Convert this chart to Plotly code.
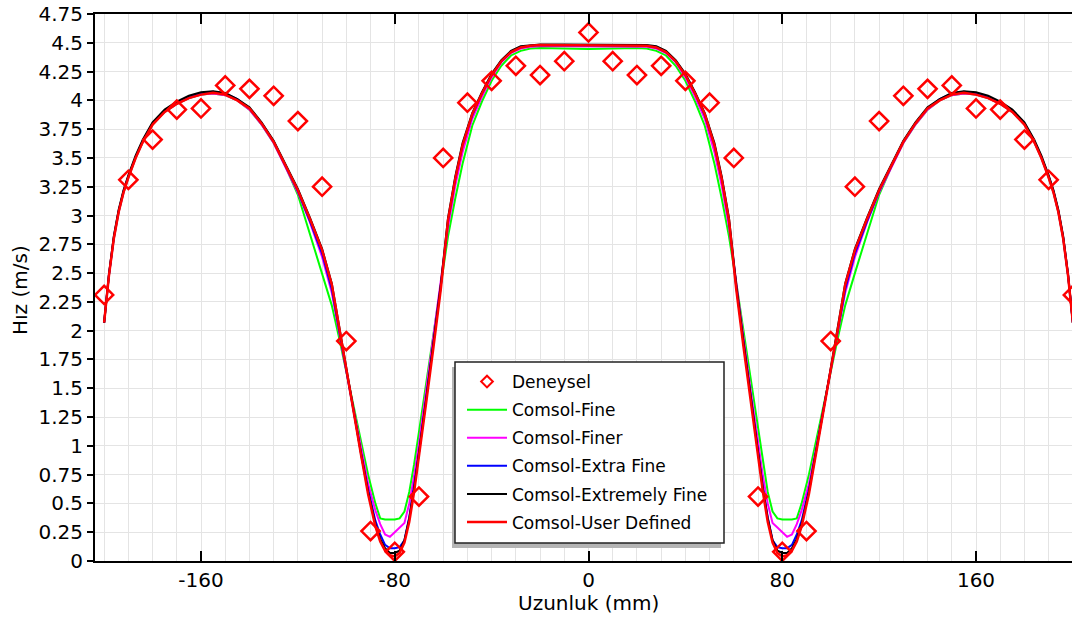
import plotly.graph_objects as go

# Measurement positions along the channel (mm) and measured velocity (m/s)
EXP_X = [-200, -190, -180, -170, -160, -150, -140, -130, -120, -110, -100, -90, -80, -70, -60, -50, -40, -30, -20, -10,
         0, 10, 20, 30, 40, 50, 60, 70, 80, 90, 100, 110, 120, 130, 140, 150, 160, 170, 180, 190, 200]
EXP_V = [2.31, 3.31, 3.66, 3.92, 3.93, 4.13, 4.10, 4.04, 3.82, 3.25, 1.91, 0.26, 0.08, 0.56, 3.50, 3.98, 4.17, 4.30, 4.22, 4.34,
         4.59, 4.34, 4.22, 4.30, 4.17, 3.98, 3.50, 0.56, 0.08, 0.26, 1.91, 3.25, 3.82, 4.04, 4.10, 4.13, 3.93, 3.92, 3.66, 3.31, 2.31]

# Sample line used for all simulated profiles (mm)
SIM_X = [-200, -198, -196, -194, -192, -190, -187, -184, -180, -175, -170, -165, -160, -155, -150, -145, -140, -135,
         -130, -125, -120, -115, -110, -106, -103, -100, -97, -94, -91, -88, -86, -84, -82, -80, -78, -76, -74, -72,
         -70, -67, -64, -61, -58, -55, -52, -48, -44, -40, -36, -32, -28, -24, -20, -10, 0,
         10, 20, 24, 28, 32, 36, 40, 44, 48, 52, 55, 58, 61, 64, 67, 70, 72, 74, 76, 78, 80, 82, 84, 86, 88, 91, 94,
         97, 100, 103, 106, 110, 115, 120, 125, 130, 135, 140, 145, 150, 155, 160, 165, 170, 175, 180, 184, 187, 190,
         192, 194, 196, 198, 200]

V_FINE = [2.07, 2.48, 2.80, 3.03, 3.20, 3.33, 3.50, 3.64, 3.79, 3.90, 3.97, 4.02, 4.05, 4.06, 4.045, 4.00, 3.92, 3.79,
          3.63, 3.42, 3.18, 2.84, 2.50, 2.22, 1.94, 1.64, 1.34, 1.04, 0.75, 0.50, 0.37, 0.36, 0.36, 0.36, 0.37, 0.43,
          0.60, 0.84, 1.12, 1.55, 2.00, 2.42, 2.82, 3.15, 3.45, 3.78, 3.99, 4.17, 4.30, 4.39, 4.43, 4.45, 4.455, 4.45,
          4.445,
          4.45, 4.455, 4.45, 4.43, 4.39, 4.30, 4.17, 3.99, 3.78, 3.45, 3.15, 2.82, 2.42, 2.00, 1.55, 1.12, 0.84, 0.60,
          0.43, 0.37, 0.36, 0.36, 0.36, 0.37, 0.50, 0.75, 1.04, 1.34, 1.64, 1.94, 2.22, 2.50, 2.84, 3.18, 3.42, 3.63,
          3.79, 3.92, 4.00, 4.045, 4.06, 4.05, 4.02, 3.97, 3.90, 3.79, 3.64, 3.50, 3.33, 3.20, 3.03, 2.80, 2.48, 2.07]

V_FINER = [2.07, 2.48, 2.80, 3.03, 3.20, 3.33, 3.50, 3.64, 3.79, 3.90, 3.97, 4.02, 4.05, 4.06, 4.045, 4.00, 3.92, 3.79,
           3.63, 3.42, 3.20, 2.94, 2.64, 2.33, 1.98, 1.65, 1.32, 0.98, 0.67, 0.44, 0.32, 0.23, 0.21, 0.25, 0.29, 0.33,
           0.50, 0.74, 1.02, 1.48, 1.94, 2.40, 2.90, 3.26, 3.55, 3.84, 4.03, 4.20, 4.33, 4.41, 4.45, 4.465, 4.47, 4.47,
           4.47,
           4.47, 4.47, 4.465, 4.45, 4.41, 4.33, 4.20, 4.03, 3.84, 3.55, 3.26, 2.90, 2.40, 1.94, 1.48, 1.02, 0.74, 0.50,
           0.33, 0.29, 0.25, 0.21, 0.23, 0.32, 0.44, 0.67, 0.98, 1.32, 1.65, 1.98, 2.33, 2.64, 2.94, 3.20, 3.42, 3.63,
           3.79, 3.92, 4.00, 4.045, 4.06, 4.05, 4.02, 3.97, 3.90, 3.79, 3.64, 3.50, 3.33, 3.20, 3.03, 2.80, 2.48, 2.07]

V_EXTRA_FINE = [2.07, 2.49, 2.81, 3.04, 3.21, 3.34, 3.51, 3.65, 3.80, 3.91, 3.98, 4.03, 4.065, 4.075, 4.06, 4.01, 3.93,
                3.80, 3.64, 3.43, 3.21, 2.95, 2.67, 2.36, 2.00, 1.66, 1.31, 0.95, 0.62, 0.35, 0.23, 0.14, 0.11, 0.11,
                0.12, 0.18, 0.38, 0.64, 0.94, 1.42, 1.90, 2.38, 2.95, 3.32, 3.61, 3.87, 4.06, 4.22, 4.34, 4.42, 4.46,
                4.475, 4.48, 4.48, 4.48,
                4.48, 4.48, 4.475, 4.46, 4.42, 4.34, 4.22, 4.06, 3.87, 3.61, 3.32, 2.95, 2.38, 1.90, 1.42, 0.94, 0.64,
                0.38, 0.18, 0.12, 0.11, 0.11, 0.14, 0.23, 0.35, 0.62, 0.95, 1.31, 1.66, 2.00, 2.36, 2.67, 2.95, 3.21,
                3.43, 3.64, 3.80, 3.93, 4.01, 4.06, 4.075, 4.065, 4.03, 3.98, 3.91, 3.80, 3.65, 3.51, 3.34, 3.21, 3.04,
                2.81, 2.49, 2.07]

V_EXTREMELY_FINE = [2.07, 2.49, 2.82, 3.05, 3.22, 3.35, 3.52, 3.66, 3.81, 3.92, 3.99, 4.04, 4.07, 4.08, 4.065, 4.01,
                    3.94, 3.81, 3.65, 3.44, 3.23, 2.98, 2.71, 2.41, 2.03, 1.67, 1.31, 0.94, 0.60, 0.32, 0.19, 0.11,
                    0.07, 0.07, 0.09, 0.18, 0.37, 0.63, 0.93, 1.41, 1.90, 2.40, 2.98, 3.34, 3.63, 3.89, 4.07, 4.23,
                    4.35, 4.43, 4.47, 4.48, 4.485, 4.485, 4.485,
                    4.485, 4.485, 4.48, 4.47, 4.43, 4.35, 4.23, 4.07, 3.89, 3.63, 3.34, 2.98, 2.40, 1.90, 1.41, 0.93,
                    0.63, 0.37, 0.18, 0.09, 0.07, 0.07, 0.11, 0.19, 0.32, 0.60, 0.94, 1.31, 1.67, 2.03, 2.41, 2.71,
                    2.98, 3.23, 3.44, 3.65, 3.81, 3.94, 4.01, 4.065, 4.08, 4.07, 4.04, 3.99, 3.92, 3.81, 3.66, 3.52,
                    3.35, 3.22, 3.05, 2.82, 2.49, 2.07]

V_USER = [2.07, 2.48, 2.80, 3.03, 3.20, 3.33, 3.50, 3.64, 3.79, 3.90, 3.97, 4.02, 4.05, 4.065, 4.05, 4.00, 3.93, 3.80,
          3.64, 3.43, 3.22, 2.97, 2.70, 2.40, 2.02, 1.66, 1.30, 0.93, 0.58, 0.30, 0.17, 0.09, 0.05, 0.04, 0.07, 0.16,
          0.34, 0.60, 0.90, 1.38, 1.86, 2.36, 2.96, 3.32, 3.61, 3.88, 4.06, 4.22, 4.34, 4.42, 4.46, 4.475, 4.48, 4.48,
          4.48,
          4.48, 4.48, 4.475, 4.46, 4.42, 4.34, 4.22, 4.06, 3.88, 3.61, 3.32, 2.96, 2.36, 1.86, 1.38, 0.90, 0.60, 0.34,
          0.16, 0.07, 0.04, 0.05, 0.09, 0.17, 0.30, 0.58, 0.93, 1.30, 1.66, 2.02, 2.40, 2.70, 2.97, 3.22, 3.43, 3.64,
          3.80, 3.93, 4.00, 4.05, 4.065, 4.05, 4.02, 3.97, 3.90, 3.79, 3.64, 3.50, 3.33, 3.20, 3.03, 2.80, 2.48, 2.07]

SERIES_NAMES = ["Comsol-Fine", "Comsol-Finer", "Comsol-Extra Fine", "Comsol-Extremely Fine", "Comsol-User Defined"]
SERIES_COLORS = ["#00ff00", "#ff00ff", "#0000ff", "#000000", "#ff0000"]

X_TICKS = [-160, -80, 0, 80, 160]
X_TICK_TEXT = ["-160", "-80", "0", "80", "160"]
Y_TICKS = [0, 0.25, 0.5, 0.75, 1, 1.25, 1.5, 1.75, 2, 2.25, 2.5, 2.75, 3, 3.25, 3.5, 3.75, 4, 4.25, 4.5, 4.75]
Y_TICK_TEXT = ["0", "0.25", "0.5", "0.75", "1", "1.25", "1.5", "1.75", "2", "2.25", "2.5", "2.75", "3", "3.25",
               "3.5", "3.75", "4", "4.25", "4.5", "4.75"]

for vals in (V_FINE, V_FINER, V_EXTRA_FINE, V_EXTREMELY_FINE, V_USER):
    assert len(vals) == len(SIM_X)

W, H = 1072, 619
ML, MR, MT, MB = 95, 0, 14, 58
PW, PH = W - ML - MR, H - MT - MB
FONT = "DejaVu Sans"


def px_x(p):
    return (p - ML) / PW


def px_y(p):
    return (H - MB - p) / PH


fig = go.Figure()

sim_values = [V_FINE, V_FINER, V_EXTRA_FINE, V_EXTREMELY_FINE, V_USER]
for i, (name, color, vals) in enumerate(zip(SERIES_NAMES, SERIES_COLORS, sim_values)):
    fig.add_trace(go.Scatter(
        x=SIM_X, y=vals, mode="lines", name=name,
        line=dict(color=color, width=2.5 if i == len(SERIES_NAMES) - 1 else 2),
        legendgroup=name, legendrank=i + 2,
    ))

# measured points on top of the curves; the legend shows a smaller marker
fig.add_trace(go.Scatter(
    x=EXP_X, y=EXP_V, mode="markers", name="Deneysel", showlegend=False,
    marker=dict(symbol="diamond-open", size=14, color="#ff0000", line=dict(width=2.5, color="#ff0000")),
))
fig.add_trace(go.Scatter(
    x=[None], y=[None], mode="markers", name="Deneysel", legendgroup="Deneysel", legendrank=1,
    marker=dict(symbol="diamond-open", size=9, color="#ff0000", line=dict(width=2, color="#ff0000")),
))

GRID = "#e4e4e4"

fig.update_xaxes(
    range=[-203.77, 199.64], tickvals=X_TICKS, ticktext=X_TICK_TEXT,
    ticks="inside", ticklen=10, tickwidth=1.5, tickcolor="black",
    showline=True, linecolor="black", linewidth=2, mirror="ticks",
    showgrid=True, gridcolor=GRID, gridwidth=1.2,
    minor=dict(dtick=10, tick0=0, showgrid=True, gridcolor=GRID, gridwidth=1.2, ticks=""),
    tickfont=dict(family=FONT, size=20, color="black"), zeroline=False,
)
fig.update_yaxes(
    range=[0, 4.75], tickvals=Y_TICKS, ticktext=Y_TICK_TEXT, ticks="outside", ticklen=6, tickwidth=1.5,
    tickcolor="black", showline=True, linecolor="black", linewidth=2,
    showgrid=True, gridcolor=GRID, gridwidth=1.2,
    tickfont=dict(family=FONT, size=20, color="black"), zeroline=False,
)

# legend frame with a drop shadow
shapes = [
    dict(type="rect", xref="paper", yref="paper", layer="above",
         x0=px_x(452), x1=px_x(721), y0=px_y(548), y1=px_y(367),
         fillcolor="#b4b4b4", line=dict(width=0)),
    dict(type="rect", xref="paper", yref="paper", layer="above",
         x0=px_x(455), x1=px_x(724), y0=px_y(543), y1=px_y(362),
         fillcolor="white", line=dict(color="#222222", width=1.5)),
]

annotations = [
    dict(text="Uzunluk (mm)", xref="paper", yref="paper", x=px_x(588), y=px_y(603), showarrow=False,
         xanchor="center", yanchor="middle", font=dict(family=FONT, size=20, color="black")),
    dict(text="Hız (m/s)", xref="paper", yref="paper", x=px_x(20), y=px_y(290), showarrow=False,
         textangle=-90, xanchor="center", yanchor="middle", font=dict(family=FONT, size=20, color="black")),
]

fig.update_layout(
    width=W, height=H, margin=dict(l=ML, r=MR, t=MT, b=MB, autoexpand=False),
    paper_bgcolor="white", plot_bgcolor="white",
    shapes=shapes, annotations=annotations,
    showlegend=True,
    legend=dict(
        xref="paper", yref="paper", x=px_x(462), y=px_y(364), xanchor="left", yanchor="top",
        bgcolor="rgba(0,0,0,0)", borderwidth=0, font=dict(family=FONT, size=17, color="black"),
        traceorder="grouped", tracegroupgap=3, itemwidth=40,
    ),
)

fig.write_html("out.html")
